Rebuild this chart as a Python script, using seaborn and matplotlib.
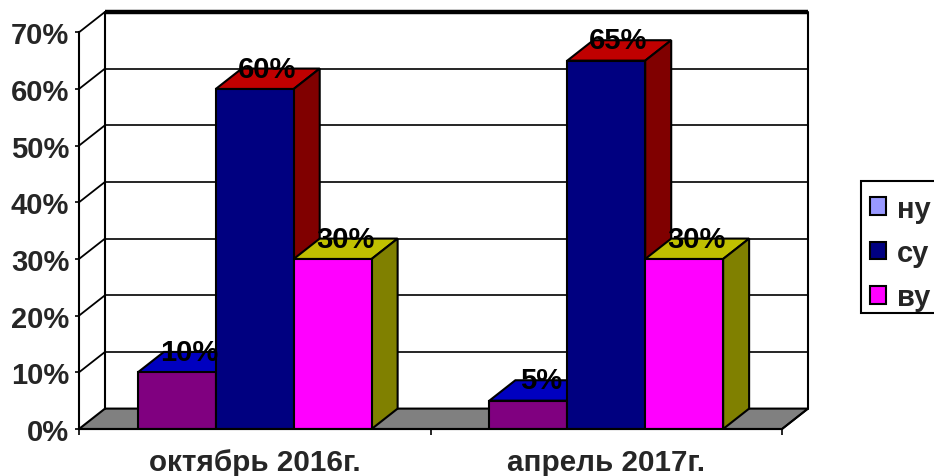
import pandas as pd
import seaborn as sns
import matplotlib
matplotlib.use("Agg")
import matplotlib.pyplot as plt
from matplotlib.patches import Patch, Polygon, Rectangle
from matplotlib.ticker import PercentFormatter

# values
periods = ["октябрь 2016г.", "апрель 2017г."]
levels = ["ну", "су", "ву"]
nu_values = [10, 5]
su_values = [60, 65]
vu_values = [30, 30]

# excel 3d look: each series has its own face colours
front_colors = ["#800080", "#000080", "#FF00FF"]
top_colors = ["#0000C0", "#C00000", "#C0C000"]
side_colors = ["#000080", "#800000", "#808000"]
legend_colors = ["#9999FF", "#000080", "#FF00FF"]
floor_color = "#808080"

df = pd.DataFrame({
    "period": periods * 3,
    "level": [levels[0]] * 2 + [levels[1]] * 2 + [levels[2]] * 2,
    "value": nu_values + su_values + vu_values,
})

sns.set_style("white")
plt.rcParams["font.family"] = ["Liberation Sans", "DejaVu Sans"]
plt.rcParams["font.weight"] = "bold"
plt.rcParams["font.size"] = 21

fig = plt.figure(figsize=(9.34, 4.77), dpi=100)
ax = fig.add_axes([79 / 934, 47 / 477, 703 / 934, 396.7 / 477])

sns.barplot(data=df, x="period", y="value", hue="level", order=periods, hue_order=levels,
            palette=front_colors, width=0.665, gap=0, edgecolor="black", linewidth=1.5,
            saturation=1, legend=False, ax=ax, zorder=5)

ax.set_xlim(-0.5, 1.5)
ax.set_ylim(0, 70)
ax.set_xlabel("")
ax.set_ylabel("")

# depth of the fake 3d box, in data units
dx = 26 / 351.5
dy = 3.6
x0, x1 = ax.get_xlim()

# floor
ax.add_patch(Polygon([(x0, 0), (x1, 0), (x1 + dx, dy), (x0 + dx, dy)], closed=True, facecolor=floor_color,
                     edgecolor="black", linewidth=1.5, clip_on=False, zorder=1))

# back wall grid and the diagonals on the side wall
for v in range(10, 80, 10):
    lw = 3.2 if v == 70 else 1.2
    ax.plot([x0 + dx, x1 + dx], [v + dy, v + dy], color="black", lw=lw, clip_on=False, zorder=1,
            solid_capstyle="butt")
    ax.plot([x0, x0 + dx], [v, v + dy], color="black", lw=1.3, clip_on=False, zorder=1)
ax.plot([x0 + dx, x0 + dx], [dy, 70 + dy], color="black", lw=1.5, clip_on=False, zorder=1)
ax.plot([x1 + dx, x1 + dx], [dy, 70 + dy], color="black", lw=1.5, clip_on=False, zorder=1)
ax.plot([x1, x1 + dx], [0, dy], color="black", lw=1.3, clip_on=False, zorder=1)

# top and side faces, then the value labels
for i, container in enumerate(ax.containers):
    for bar in container:
        left = bar.get_x()
        right = left + bar.get_width()
        h = bar.get_height()
        ax.add_patch(Polygon([(left, h), (right, h), (right + dx, h + dy), (left + dx, h + dy)], closed=True,
                             facecolor=top_colors[i], edgecolor="black", linewidth=1.5, clip_on=False, zorder=3))
        ax.add_patch(Polygon([(right, 0), (right + dx, dy), (right + dx, h + dy), (right, h)], closed=True,
                             facecolor=side_colors[i], edgecolor="black", linewidth=1.5, clip_on=False, zorder=3))
        ax.text((left + right + dx) / 2 - 0.002, h + dy, f"{h:.0f}%", ha="center", va="center", color="black",
                zorder=10, clip_on=False)

ax.yaxis.set_major_formatter(PercentFormatter(decimals=0))
ax.set_yticks(range(0, 80, 10))
ax.set_xticks([0, 1], periods)
ax.set_xticks([-0.5, 0.5, 1.5], minor=True)
ax.tick_params(axis="x", which="major", length=0, pad=14, labelsize=21.3)
ax.tick_params(axis="x", which="minor", length=4, width=1.2, color="black", bottom=True)
ax.tick_params(axis="y", length=3, width=1.2, color="black", left=True, pad=4)

sns.despine(ax=ax, top=True, right=True)
for side in ["left", "bottom"]:
    ax.spines[side].set_color("black")
    ax.spines[side].set_linewidth(1.5)
    ax.spines[side].set_zorder(6)

# legend box runs off the right edge like in the original
fig.add_artist(Rectangle((861 / 934, 1 - 314 / 477), 90 / 934, 132 / 477, transform=fig.transFigure,
                         facecolor="white", edgecolor="black", linewidth=1.5, zorder=1))
handles = [Patch(facecolor=c, edgecolor="black", linewidth=1.5) for c in legend_colors]
fig.legend(handles, levels, loc="upper left", bbox_to_anchor=(861 / 934, 1 - 187 / 477), borderaxespad=0,
           borderpad=0.3, handlelength=0.57, handleheight=0.57, handletextpad=0.37, labelspacing=0.55,
           frameon=False, fontsize=21)

fig.savefig("out.png", dpi=100)
